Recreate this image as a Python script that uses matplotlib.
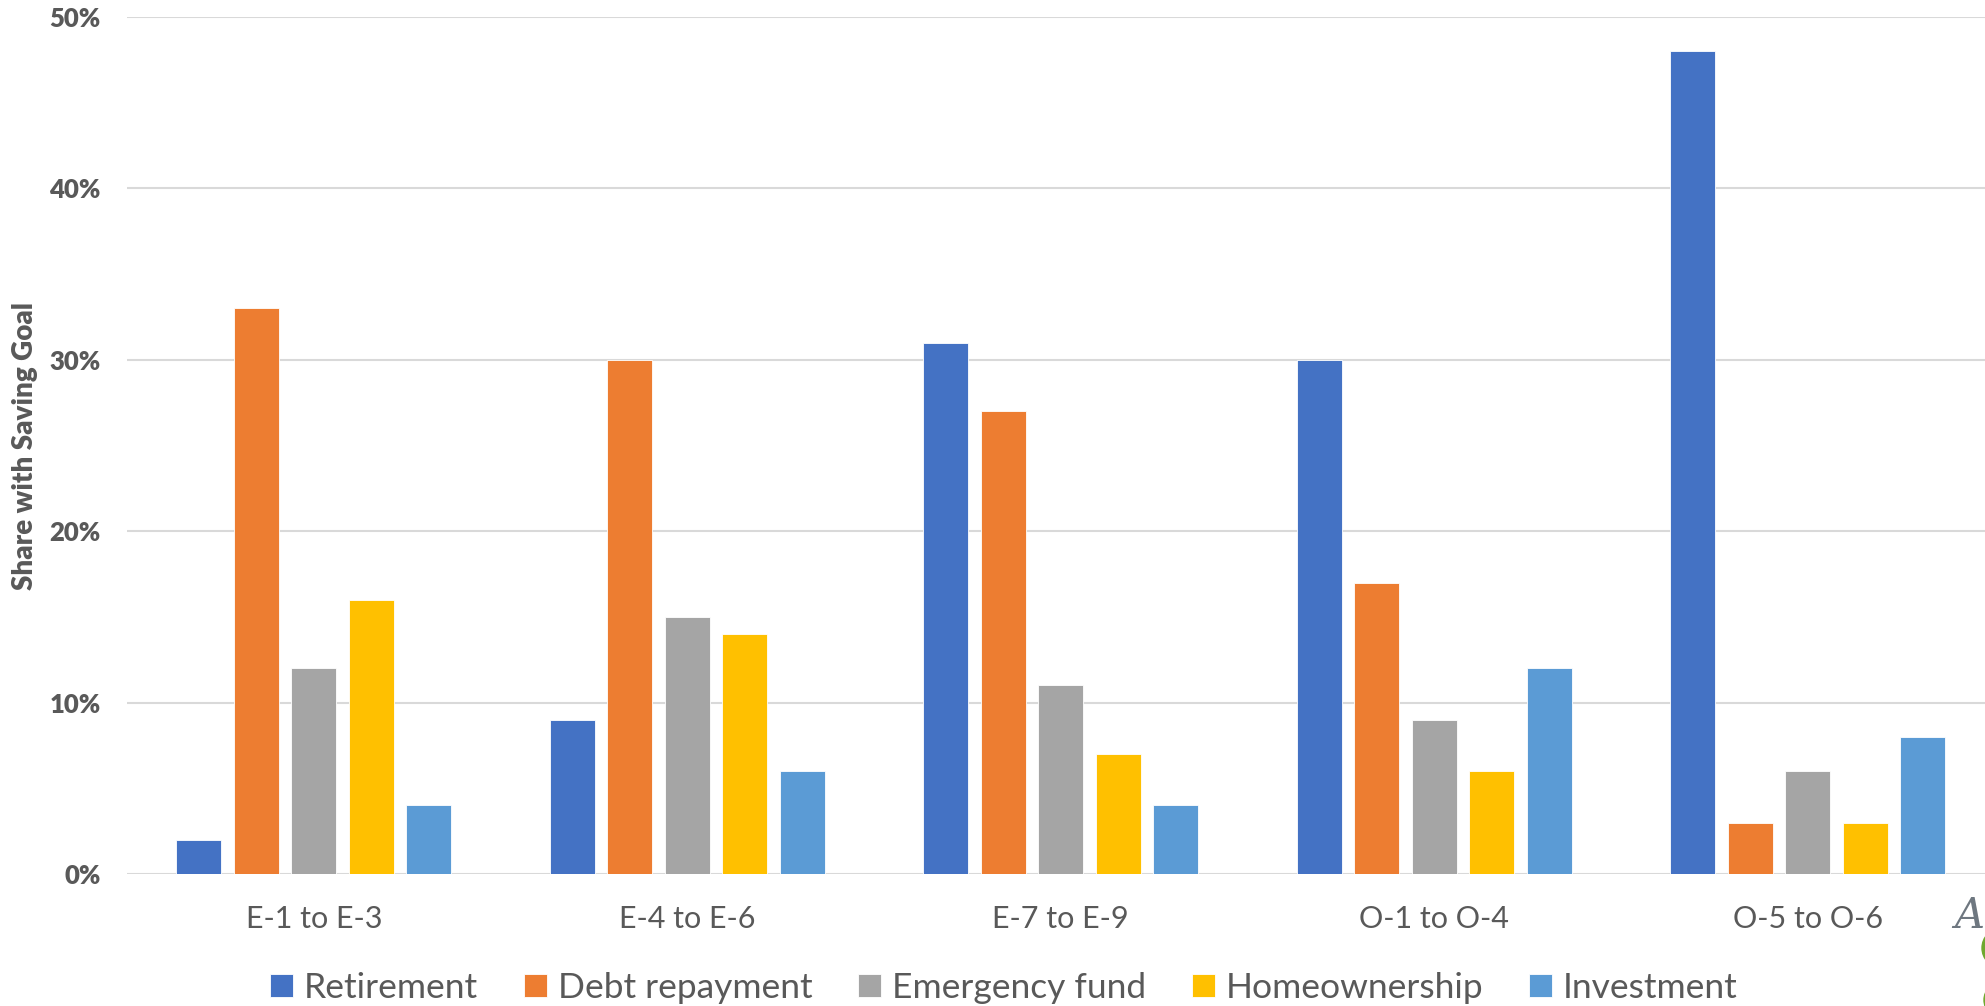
import matplotlib.pyplot as plt
from matplotlib.patches import Ellipse
import numpy as np

# pay-grade groups and saving-goal shares (percent)
grades = ["E-1 to E-3", "E-4 to E-6", "E-7 to E-9", "O-1 to O-4", "O-5 to O-6"]
goals = ["Retirement", "Debt repayment", "Emergency fund", "Homeownership", "Investment"]
retirement = [2, 9, 31, 30, 48]
debt_repayment = [33, 30, 27, 17, 3]
emergency_fund = [12, 15, 11, 9, 6]
homeownership = [16, 14, 7, 6, 3]
investment = [4, 6, 4, 12, 8]

series = [retirement, debt_repayment, emergency_fund, homeownership, investment]
colors = ["#4472C4", "#ED7D31", "#A5A5A5", "#FFC000", "#5B9BD5"]
text_gray = "#595959"

plt.rcParams["font.family"] = ["Lato", "DejaVu Sans"]

W, H = 1985, 1006
fig = plt.figure(figsize=(W / 100, H / 100), dpi=100)
ax = fig.add_axes([127 / W, 132 / H, (1994.5 - 127) / W, (874 - 17) / H])

x = np.arange(len(grades))
step, width = 0.154, 0.12
for i, (vals, name, col) in enumerate(zip(series, goals, colors)):
    ax.bar(x + (i - 2) * step, np.array(vals) / 100, width=width, color=col,
           edgecolor="white", linewidth=0.6, label=name, zorder=3)

ax.set_xlim(-0.5, len(grades) - 0.5)
ax.set_ylim(0, 0.5)
ticks = np.arange(0, 0.51, 0.1)
ax.set_yticks(ticks)
ax.set_yticklabels([f"{int(round(v * 100))}%" for v in ticks],
                   fontsize=18.5, fontweight="heavy", color=text_gray)
ax.set_xticks(x)
ax.set_xticklabels(grades, fontsize=22, color=text_gray)
ax.tick_params(axis="y", length=0, pad=19)
ax.tick_params(axis="x", length=0, pad=22)
ax.grid(axis="y", color="#D9D9D9", linewidth=1.5, zorder=0)
for s in ax.spines.values():
    s.set_visible(False)
ax.set_axisbelow(True)

fig.text(25 / W, 1 - 446 / H, "Share with Saving Goal", rotation=90,
         ha="center", va="center", fontsize=20, fontweight="heavy", color=text_gray)

leg = fig.legend(loc="center", bbox_to_anchor=(1004 / W, 18 / H), ncol=5,
                 frameon=False, fontsize=25.5, handlelength=0.65, handleheight=0.65,
                 handletextpad=0.3, columnspacing=1.3, labelcolor=text_gray)

# logo fragment at the lower right corner
fig.text(1954 / W, 1 - 916 / H, "A", fontsize=30, family="DejaVu Serif",
         style="italic", color="#6E7780", ha="left", va="center")
for cy, r in [(948, 20), (1000, 18)]:
    fig.patches.append(Ellipse((2002 / W, 1 - cy / H), 2 * r / W, 2 * r / H,
                               color="#6FA82F", transform=fig.transFigure, figure=fig))

fig.savefig("out.png", dpi=100)
